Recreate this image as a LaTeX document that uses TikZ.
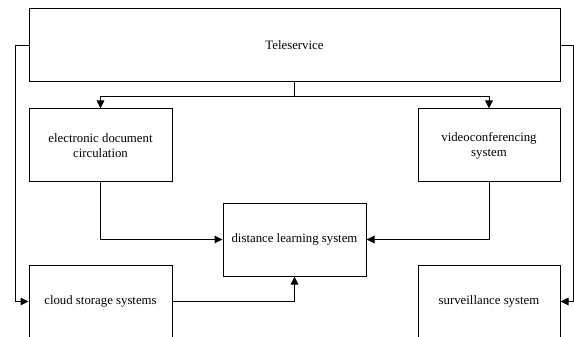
\documentclass[tikz,border=0pt]{standalone}
\usepackage{fontspec}
\setmainfont{Liberation Serif}
\usetikzlibrary{arrows.meta}
\begin{document}
\begin{tikzpicture}[x=1pt,y=1pt,
  box/.style={draw, line width=1pt, inner sep=0pt, align=center,
    font=\fontsize{12.8}{15}\selectfont},
  arr/.style={line width=1pt, -{Triangle[length=8pt,width=7.5pt]}},
  ln/.style={line width=1pt}]
\useasboundingbox (0,0) rectangle (574,-337);
\clip (0,0) rectangle (574,-337);
\node[box, minimum width=531pt, minimum height=73pt] (tele) at (294.5,-45.5) {Teleservice};
\node[box, minimum width=143pt, minimum height=73pt] (elec) at (100.5,-145.5) {electronic document\\circulation};
\node[box, minimum width=142pt, minimum height=73pt] (video) at (489,-145.5) {videoconferencing\\system};
\node[box, minimum width=143pt, minimum height=73pt] (dist) at (294.5,-239.5) {distance learning system};
\node[box, minimum width=143pt, minimum height=73pt] (cloud) at (100.5,-301.5) {cloud storage systems};
\node[box, minimum width=142pt, minimum height=73pt] (surv) at (489,-301.5) {surveillance system};
\draw[ln] (tele.south) -- ++(0,-14) coordinate (j);
\draw[arr] (j) -| (elec.north);
\draw[arr] (j) -| (video.north);
\draw[arr] (tele.west) -- ++(-13,0) |- (cloud.west);
\draw[arr] (tele.east) -- ++(13,0) |- (surv.east);
\draw[arr] (elec.south) |- (dist.west);
\draw[arr] (video.south) |- (dist.east);
\draw[arr] (cloud.east) -| (dist.south);
\end{tikzpicture}
\end{document}
